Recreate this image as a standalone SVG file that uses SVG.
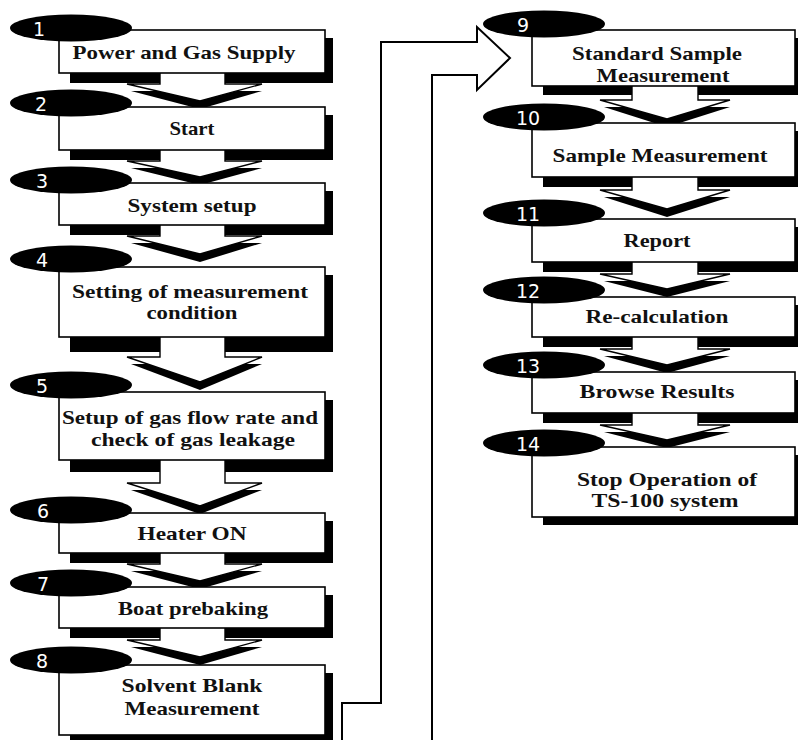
<svg xmlns="http://www.w3.org/2000/svg" width="798" height="740" viewBox="0 0 798 740">
<style>
.sh{fill:#000}
.box{fill:#fff;stroke:#000;stroke-width:1.6}
.ell{fill:#000}
.num{fill:#fff;font-family:"DejaVu Sans","Open Sans",sans-serif;font-size:19px}
.lbl{fill:#111;font-family:"Liberation Serif","Times New Roman",serif;font-size:19px;font-weight:bold;text-anchor:middle}
.ah{fill:#000}
.aw{fill:#fff;stroke:#000;stroke-width:1.4;stroke-linejoin:miter}
.big{fill:none;stroke:#000;stroke-width:2}
</style>
<rect width="798" height="740" fill="#fff"/>
<g id="connectors">
  <polygon class="ah" points="131,91 200,109 262,91"/><path class="aw" d="M160,73 V84 H127 L200,101 L262,84 H225 V73"/>
  <polygon class="ah" points="131,168 200,185 262,168"/><path class="aw" d="M160,150 V161 H127 L200,177 L262,161 H225 V150"/>
  <polygon class="ah" points="131,243 200,262 262,243"/><path class="aw" d="M160,225 V236 H127 L200,254 L262,236 H225 V225"/>
  <polygon class="ah" points="131,364 200,390 262,364"/><path class="aw" d="M160,337 V357 H127 L200,382 L262,357 H225 V337"/>
  <polygon class="ah" points="131,490 200,514 262,490"/><path class="aw" d="M160,460 V483 H127 L200,506 L262,483 H225 V460"/>
  <polygon class="ah" points="131,571 200,589 262,571"/><path class="aw" d="M160,553 V564 H127 L200,581 L262,564 H225 V553"/>
  <polygon class="ah" points="131,647 200,665 262,647"/><path class="aw" d="M160,628 V640 H127 L200,657 L262,640 H225 V628"/>
  <polygon class="ah" points="604,107 667,127 730,107"/><path class="aw" d="M632,86 V100 H600 L667,119 L730,100 H698 V86"/>
  <polygon class="ah" points="604,197 667,217 730,197"/><path class="aw" d="M632,177 V190 H600 L667,209 L730,190 H698 V177"/>
  <polygon class="ah" points="604,281 667,297 730,281"/><path class="aw" d="M632,262 V274 H600 L667,289 L730,274 H698 V262"/>
  <polygon class="ah" points="604,356 667,373 730,356"/><path class="aw" d="M632,337 V349 H600 L667,365 L730,349 H698 V337"/>
  <polygon class="ah" points="604,432 667,448 730,432"/><path class="aw" d="M632,413 V425 H600 L667,440 L730,425 H698 V413"/>
  <path class="big" d="M342,742 V703 H381 V42 H477 V27 L510,58 L477,90 V75 H432 V742"/>
</g>
<g id="n1">
  <rect class="sh" x="325" y="38" width="8" height="45"/><rect class="sh" x="70" y="73" width="90" height="10"/><rect class="sh" x="225" y="73" width="108" height="10"/>
  <rect class="box" x="59" y="30" width="266" height="43"/>
  <ellipse class="ell" cx="71" cy="28" rx="61" ry="13.5"/>
  <text class="num" x="33" y="36">1</text>
  <text class="lbl" x="184" y="59" textLength="223" lengthAdjust="spacingAndGlyphs">Power and Gas Supply</text>
</g>
<g id="n2">
  <rect class="sh" x="325" y="115" width="8" height="45"/><rect class="sh" x="70" y="150" width="90" height="10"/><rect class="sh" x="225" y="150" width="108" height="10"/>
  <rect class="box" x="59" y="107" width="266" height="43"/>
  <ellipse class="ell" cx="71" cy="103" rx="61" ry="13.5"/>
  <text class="num" x="35" y="111">2</text>
  <text class="lbl" x="192" y="135" textLength="45" lengthAdjust="spacingAndGlyphs">Start</text>
</g>
<g id="n3">
  <rect class="sh" x="325" y="191" width="8" height="44"/><rect class="sh" x="70" y="225" width="90" height="10"/><rect class="sh" x="225" y="225" width="108" height="10"/>
  <rect class="box" x="59" y="183" width="266" height="42"/>
  <ellipse class="ell" cx="71" cy="180" rx="61" ry="13.5"/>
  <text class="num" x="36" y="188">3</text>
  <text class="lbl" x="192" y="212" textLength="129" lengthAdjust="spacingAndGlyphs">System setup</text>
</g>
<g id="n4">
  <rect class="sh" x="325" y="275" width="8" height="77"/><rect class="sh" x="70" y="337" width="90" height="15"/><rect class="sh" x="225" y="337" width="108" height="15"/>
  <rect class="box" x="59" y="267" width="266" height="70"/>
  <ellipse class="ell" cx="71" cy="259" rx="61" ry="13.5"/>
  <text class="num" x="36" y="267">4</text>
  <text class="lbl" x="190" y="298" textLength="236" lengthAdjust="spacingAndGlyphs">Setting of measurement</text>
  <text class="lbl" x="192" y="319" textLength="91" lengthAdjust="spacingAndGlyphs">condition</text>
</g>
<g id="n5">
  <rect class="sh" x="325" y="400" width="8" height="72"/><rect class="sh" x="70" y="460" width="90" height="12"/><rect class="sh" x="225" y="460" width="108" height="12"/>
  <rect class="box" x="59" y="392" width="266" height="68"/>
  <ellipse class="ell" cx="71" cy="385" rx="61" ry="13.5"/>
  <text class="num" x="36" y="393">5</text>
  <text class="lbl" x="190" y="424" textLength="256" lengthAdjust="spacingAndGlyphs">Setup of gas flow rate and</text>
  <text class="lbl" x="193" y="446" textLength="204" lengthAdjust="spacingAndGlyphs">check of gas leakage</text>
</g>
<g id="n6">
  <rect class="sh" x="325" y="521" width="8" height="42"/><rect class="sh" x="70" y="553" width="90" height="10"/><rect class="sh" x="225" y="553" width="108" height="10"/>
  <rect class="box" x="59" y="513" width="266" height="40"/>
  <ellipse class="ell" cx="71" cy="510" rx="61" ry="13.5"/>
  <text class="num" x="37" y="518">6</text>
  <text class="lbl" x="192" y="540" textLength="109" lengthAdjust="spacingAndGlyphs">Heater ON</text>
</g>
<g id="n7">
  <rect class="sh" x="325" y="595" width="8" height="43"/><rect class="sh" x="70" y="628" width="90" height="10"/><rect class="sh" x="225" y="628" width="108" height="10"/>
  <rect class="box" x="59" y="587" width="266" height="41"/>
  <ellipse class="ell" cx="71" cy="583" rx="61" ry="13.5"/>
  <text class="num" x="37" y="591">7</text>
  <text class="lbl" x="193" y="615" textLength="150" lengthAdjust="spacingAndGlyphs">Boat prebaking</text>
</g>
<g id="n8">
  <rect class="sh" x="325" y="673" width="8" height="72"/><rect class="sh" x="70" y="735" width="263" height="10"/>
  <rect class="box" x="59" y="665" width="266" height="70"/>
  <ellipse class="ell" cx="71" cy="660" rx="61" ry="13.5"/>
  <text class="num" x="36" y="668">8</text>
  <text class="lbl" x="192" y="692" textLength="141" lengthAdjust="spacingAndGlyphs">Solvent Blank</text>
  <text class="lbl" x="192" y="715" textLength="135" lengthAdjust="spacingAndGlyphs">Measurement</text>
</g>
<g id="n9">
  <rect class="sh" x="795" y="38" width="8" height="57"/><rect class="sh" x="543" y="86" width="89" height="9"/><rect class="sh" x="698" y="86" width="105" height="9"/>
  <rect class="box" x="532" y="30" width="263" height="56"/>
  <ellipse class="ell" cx="544" cy="24" rx="61" ry="13.5"/>
  <text class="num" x="517" y="32">9</text>
  <text class="lbl" x="657" y="60" textLength="170" lengthAdjust="spacingAndGlyphs">Standard Sample</text>
  <text class="lbl" x="663" y="82" textLength="133" lengthAdjust="spacingAndGlyphs">Measurement</text>
</g>
<g id="n10">
  <rect class="sh" x="795" y="131" width="8" height="56"/><rect class="sh" x="543" y="177" width="89" height="10"/><rect class="sh" x="698" y="177" width="105" height="10"/>
  <rect class="box" x="532" y="123" width="263" height="54"/>
  <ellipse class="ell" cx="544" cy="117" rx="61" ry="13.5"/>
  <text class="num" x="516" y="125">10</text>
  <text class="lbl" x="660" y="162" textLength="215" lengthAdjust="spacingAndGlyphs">Sample Measurement</text>
</g>
<g id="n11">
  <rect class="sh" x="795" y="227" width="8" height="45"/><rect class="sh" x="543" y="262" width="89" height="10"/><rect class="sh" x="698" y="262" width="105" height="10"/>
  <rect class="box" x="532" y="219" width="263" height="43"/>
  <ellipse class="ell" cx="544" cy="213" rx="61" ry="13.5"/>
  <text class="num" x="516" y="221">11</text>
  <text class="lbl" x="657" y="247" textLength="67" lengthAdjust="spacingAndGlyphs">Report</text>
</g>
<g id="n12">
  <rect class="sh" x="795" y="305" width="8" height="42"/><rect class="sh" x="543" y="337" width="89" height="10"/><rect class="sh" x="698" y="337" width="105" height="10"/>
  <rect class="box" x="532" y="297" width="263" height="40"/>
  <ellipse class="ell" cx="544" cy="290" rx="61" ry="13.5"/>
  <text class="num" x="516" y="298">12</text>
  <text class="lbl" x="657" y="323" textLength="143" lengthAdjust="spacingAndGlyphs">Re-calculation</text>
</g>
<g id="n13">
  <rect class="sh" x="795" y="380" width="8" height="43"/><rect class="sh" x="543" y="413" width="89" height="10"/><rect class="sh" x="698" y="413" width="105" height="10"/>
  <rect class="box" x="532" y="372" width="263" height="41"/>
  <ellipse class="ell" cx="544" cy="365" rx="61" ry="13.5"/>
  <text class="num" x="516" y="373">13</text>
  <text class="lbl" x="657" y="398" textLength="155" lengthAdjust="spacingAndGlyphs">Browse Results</text>
</g>
<g id="n14">
  <rect class="sh" x="795" y="455" width="8" height="70"/><rect class="sh" x="543" y="517" width="260" height="8"/>
  <rect class="box" x="532" y="447" width="263" height="70"/>
  <ellipse class="ell" cx="544" cy="443" rx="61" ry="13.5"/>
  <text class="num" x="516" y="451">14</text>
  <text class="lbl" x="667" y="486" textLength="180" lengthAdjust="spacingAndGlyphs">Stop Operation of</text>
  <text class="lbl" x="665" y="507" textLength="147" lengthAdjust="spacingAndGlyphs">TS-100 system</text>
</g>
</svg>
